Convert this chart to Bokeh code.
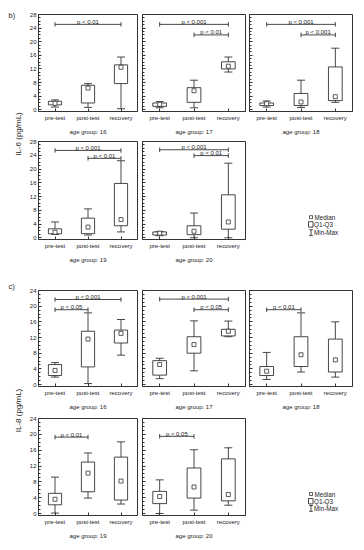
import math
from bokeh.plotting import figure
from bokeh.models import (ColumnDataSource, Range1d, FixedTicker, SingleIntervalTicker,
                          Whisker, TeeHead)
from bokeh.layouts import row, column
from bokeh.embed import file_html
from bokeh.resources import INLINE
from bokeh.core.properties import value

# ---------------- data ----------------
phases = ["pre-test", "post-test", "recovery"]
ages = [16, 17, 18, 19, 20]

# rows: age groups 16..20 ; columns: pre-test, post-test, recovery
il6_min = [[0.8, 0.7, 0.3], [0.6, 0.6, 11.1], [0.8, 0.7, 2.2], [1.0, 0.8, 1.7], [0.6, 0.0, 0.0]]
il6_q1 = [[1.45, 2.0, 7.7], [1.0, 2.2, 12.0], [1.25, 1.25, 2.7], [1.16, 1.2, 3.5], [0.8, 0.9, 2.5]]
il6_med = [[1.9, 6.4, 12.5], [1.6, 5.6, 12.8], [1.8, 2.3, 3.85], [1.6, 3.1, 5.3], [1.35, 1.9, 4.6]]
il6_q3 = [[2.5, 7.2, 13.2], [2.0, 6.5, 14.1], [2.0, 4.8, 12.6], [2.6, 5.7, 15.8], [1.7, 3.5, 12.5]]
il6_max = [[2.9, 7.7, 15.5], [2.4, 8.7, 15.5], [2.6, 8.7, 18.1], [4.6, 8.4, 22.4], [1.8, 7.2, 21.7]]

il8_min = [[1.9, 0.25, 7.5], [1.5, 3.5, 12.2], [1.3, 3.2, 1.9], [0.1, 3.9, 2.4], [0.0, 0.85, 2.1]]
il8_q1 = [[2.3, 4.5, 10.6], [2.4, 8.0, 12.4], [2.3, 4.6, 3.2], [2.2, 5.5, 3.4], [2.5, 3.9, 3.2]]
il8_med = [[3.6, 11.6, 13.05], [5.1, 10.2, 13.6], [3.4, 7.6, 6.3], [3.6, 10.2, 8.2], [4.3, 6.7, 4.8]]
il8_q3 = [[5.1, 13.6, 13.9], [6.1, 12.2, 14.1], [4.6, 12.2, 11.6], [5.1, 13.0, 14.25], [5.6, 11.5, 13.8]]
il8_max = [[5.6, 18.3, 16.6], [6.7, 16.25, 16.2], [8.2, 18.3, 16.0], [9.2, 15.3, 18.1], [8.5, 16.1, 16.6]]

# significance brackets: (from phase index, to phase index, height, label)
il6_brackets = [
    [(1, 3, 25.1, "p < 0.01")],
    [(1, 3, 25.1, "p < 0.001"), (2, 3, 22.0, "p < 0.01")],
    [(1, 3, 25.1, "p < 0.001"), (2, 3, 22.0, "p < 0.001")],
    [(1, 3, 25.4, "p < 0.001"), (2, 3, 23.1, "p < 0.01")],
    [(1, 3, 25.6, "p < 0.001"), (2, 3, 23.9, "p < 0.01")],
]
il8_brackets = [
    [(1, 3, 21.7, "p < 0.001"), (1, 2, 19.1, "p < 0.05")],
    [(1, 3, 21.8, "p < 0.001"), (2, 3, 19.1, "p < 0.05")],
    [(1, 2, 19.1, "p < 0.01")],
    [(1, 2, 19.3, "p < 0.01")],
    [(1, 2, 19.5, "p < 0.05")],
]

legend_labels = ["Median", "Q1-Q3", "Min-Max"]

FONT = value("Liberation Sans")
LINE = "#333333"
TXT = "#222222"
SMALL = value("6px")

COL_W = [112, 108, 108]
COL_LB = [9, 4, 3]
COL_RB = [1, 1, 2]


def panel(col, gi, mins, q1s, meds, q3s, maxs, brackets, ymax, h, top, bottom):
    p = figure(width=COL_W[col], height=h,
               x_range=Range1d(0.5, 3.5), y_range=Range1d(-0.5, ymax),
               toolbar_location=None, output_backend="svg",
               min_border_left=COL_LB[col], min_border_right=COL_RB[col],
               min_border_top=top, min_border_bottom=bottom,
               background_fill_color="white", border_fill_color="white")
    p.grid.visible = False
    p.outline_line_color = LINE
    p.outline_line_width = 1

    xs = [1, 2, 3]
    src = ColumnDataSource(dict(x=xs, lo=mins[gi], q1=q1s[gi], med=meds[gi],
                                q3=q3s[gi], hi=maxs[gi]))
    w = Whisker(source=src, base="x", lower="lo", upper="hi", dimension="height",
                line_color=LINE, line_width=0.9, level="underlay",
                upper_head=TeeHead(size=8, line_color=LINE, line_width=0.9),
                lower_head=TeeHead(size=8, line_color=LINE, line_width=0.9))
    p.add_layout(w)
    p.vbar(x="x", width=0.4, bottom="q1", top="q3", source=src,
           fill_color="white", line_color=LINE, line_width=0.9)
    p.scatter(x="x", y="med", source=src, marker="square", size=4,
              fill_color="white", line_color=LINE, line_width=0.8)

    bs = brackets[gi]
    bsrc = ColumnDataSource(dict(x1=[b[0] for b in bs], x2=[b[1] for b in bs],
                                 y=[b[2] for b in bs], t=[b[3] for b in bs],
                                 xm=[(b[0] + b[1]) / 2 for b in bs]))
    bw = Whisker(source=bsrc, base="y", lower="x1", upper="x2", dimension="width",
                 line_color=LINE, line_width=0.9,
                 upper_head=TeeHead(size=4.5, line_color=LINE, line_width=0.9),
                 lower_head=TeeHead(size=4.5, line_color=LINE, line_width=0.9))
    p.add_layout(bw)
    p.text(x="xm", y="y", text="t", source=bsrc, text_font=FONT, text_font_size=SMALL,
           text_color=TXT, text_align="center", text_baseline="bottom", y_offset=0.5)

    # x axis
    xa = p.xaxis[0]
    xa.ticker = FixedTicker(ticks=xs)
    xa.major_label_overrides = {1: phases[0], 2: phases[1], 3: phases[2]}
    xa.major_label_text_font = "Liberation Sans"
    xa.major_label_text_font_size = "6px"
    xa.major_label_text_color = TXT
    xa.major_label_standoff = 3
    xa.major_tick_in = 3
    xa.major_tick_out = 0
    xa.minor_tick_line_color = None
    xa.axis_line_color = LINE
    xa.major_tick_line_color = LINE
    xa.axis_label = "age group: %d" % ages[gi]
    xa.axis_label_text_font = "Liberation Sans"
    xa.axis_label_text_font_size = "6px"
    xa.axis_label_text_font_style = "normal"
    xa.axis_label_text_color = TXT
    xa.axis_label_standoff = 5

    # y axis
    ya = p.yaxis[0]
    ya.ticker = SingleIntervalTicker(interval=4, num_minor_ticks=4)
    ya.major_tick_in = 3
    ya.major_tick_out = 0
    ya.minor_tick_in = 2
    ya.minor_tick_out = 0
    ya.axis_line_color = LINE
    ya.major_tick_line_color = LINE
    ya.minor_tick_line_color = LINE
    ya.major_label_text_font = "Liberation Sans"
    if col == 0:
        ya.major_label_text_color = TXT
        ya.major_label_text_font_size = "6px"
        ya.major_label_standoff = 2
    else:
        ya.major_label_text_color = None
        ya.major_label_text_font_size = "1px"
        ya.major_label_standoff = 0
    return p


def legend_fig(page_top, h, ys, sym_x, text_x):
    p = figure(frame_width=108, frame_height=h,
               x_range=Range1d(246, 354), y_range=Range1d(page_top + h, page_top),
               x_axis_type=None, y_axis_type=None, toolbar_location=None,
               output_backend="svg", min_border=0, outline_line_color=None,
               background_fill_color="white", border_fill_color="white")
    p.scatter(x=[sym_x], y=[ys[0]], marker="square", size=3, fill_color="white",
              line_color=LINE, line_width=0.8)
    p.quad(left=[sym_x - 2.5], right=[sym_x + 2.0], top=[ys[1] - 2.8], bottom=[ys[1] + 2.6],
           fill_color="white", line_color=LINE, line_width=0.9)
    p.segment(x0=[sym_x, sym_x - 1.8, sym_x - 1.8], x1=[sym_x, sym_x + 1.8, sym_x + 1.8],
              y0=[ys[2] - 3.0, ys[2] - 3.0, ys[2] + 2.8],
              y1=[ys[2] + 2.8, ys[2] - 3.0, ys[2] + 2.8],
              line_color=LINE, line_width=0.9)
    p.text(x=text_x, y=ys, text=legend_labels, text_font=FONT,
           text_font_size=value("6.3px"), text_color=TXT,
           text_align="left", text_baseline="middle")
    return p


# strip with section letters and y-axis titles (page coordinates, layout at 0,0)
strip = figure(width=26, height=542, x_range=Range1d(0, 26),
               y_range=Range1d(542, 0), x_axis_type=None, y_axis_type=None,
               toolbar_location=None, output_backend="svg", min_border=0,
               outline_line_color=None, background_fill_color="white",
               border_fill_color="white")
strip.text(x=[8, 8], y=[14.5, 285.5], text=["b)", "c)"], text_font=FONT,
           text_font_size=value("7.5px"), text_color=TXT, text_align="left",
           text_baseline="middle")
strip.text(x=[18, 18], y=[133.5, 410], text=["IL-6 (pg/mL)", "IL-8 (pg/mL)"],
           angle=math.pi / 2, text_font=FONT, text_font_size=value("8px"),
           text_color=TXT, text_align="center", text_baseline="middle")

rb1 = row(*[panel(c, c, il6_min, il6_q1, il6_med, il6_q3, il6_max, il6_brackets, 28, 137, 14, 25)
            for c in range(3)])
rb2 = row(panel(0, 3, il6_min, il6_q1, il6_med, il6_q3, il6_max, il6_brackets, 28, 131, 4, 29),
          panel(1, 4, il6_min, il6_q1, il6_med, il6_q3, il6_max, il6_brackets, 28, 131, 4, 29),
          legend_fig(137, 131, [212.7, 220, 228.3], 310.5, [314, 313.5, 313.5]))
rc1 = row(*[panel(c, c, il8_min, il8_q1, il8_med, il8_q3, il8_max, il8_brackets, 24, 144, 22, 25)
            for c in range(3)])
rc2 = row(panel(0, 3, il8_min, il8_q1, il8_med, il8_q3, il8_max, il8_brackets, 24, 130, 6, 27),
          panel(1, 4, il8_min, il8_q1, il8_med, il8_q3, il8_max, il8_brackets, 24, 130, 6, 27),
          legend_fig(412, 130, [487.5, 494.8, 502.0], 310.5, [314, 313.5, 313.5]))

layout = row(strip, column(rb1, rb2, rc1, rc2))

open("out.html", "w").write(file_html(layout, INLINE))
